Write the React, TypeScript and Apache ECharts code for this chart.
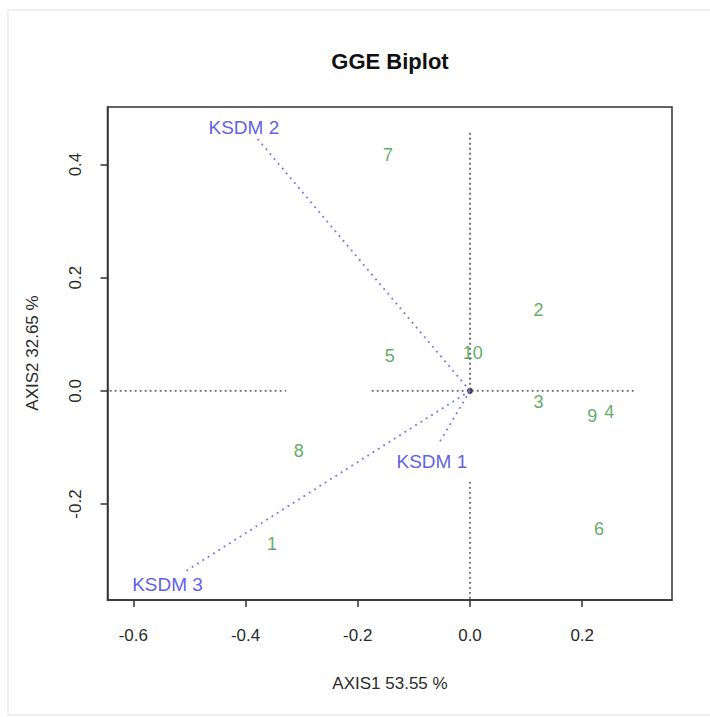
import React, { useEffect, useRef } from "react";
import * as echarts from "echarts";

// Genotypes (green labels)
const genotypeNames = ["1", "2", "3", "4", "5", "6", "7", "8", "9", "10"];
const genotypeX = [-0.353, 0.122, 0.122, 0.248, -0.143, 0.230, -0.146, -0.305, 0.218, 0.005];
const genotypeY = [-0.271, 0.143, -0.019, -0.037, 0.061, -0.245, 0.417, -0.106, -0.044, 0.067];

// Environments (blue vectors)
const envNames = ["KSDM 1", "KSDM 2", "KSDM 3"];
const envLabelX = [-0.068, -0.403, -0.539];
const envLabelY = [-0.124, 0.465, -0.343];
const envEndX = [-0.057, -0.380, -0.512];
const envEndY = [-0.095, 0.447, -0.322];

// Dotted reference axes (segments) [x1, y1, x2, y2]
const refSegments = [
  [-0.642, 0, -0.328, 0],
  [-0.175, 0, 0.294, 0],
  [0, 0.456, 0, 0],
  [0, -0.161, 0, -0.3696],
];

const xTicks = [-0.6, -0.4, -0.2, 0.0, 0.2];
const yTicks = [-0.2, 0.0, 0.2, 0.4];

const xRange = [-0.646, 0.36];
const yRange = [-0.3696, 0.5017];

const FONT = "'Liberation Sans', Arial, sans-serif";

export default function App() {
  const ref = useRef<HTMLDivElement>(null);
  useEffect(() => {
    if (!ref.current) return;
    const chart = echarts.init(ref.current, undefined, { renderer: "svg" });
    const series: any[] = [];
    refSegments.forEach((s) => {
      series.push({
        type: "line",
        data: [[s[0], s[1]], [s[2], s[3]]],
        symbol: "none",
        silent: true,
        lineStyle: { color: "#666", width: 1.8, type: [1.8, 3.2] },
      });
    });
    envNames.forEach((_, i) => {
      series.push({
        type: "line",
        data: [[0, 0], [envEndX[i], envEndY[i]]],
        symbol: "none",
        silent: true,
        lineStyle: { color: "#7474e4", width: 1.8, type: [1.8, 4.5] },
      });
    });
    series.push({
      type: "scatter",
      data: [[0, 0]],
      symbol: "circle",
      symbolSize: 6,
      itemStyle: { color: "#000" },
      silent: true,
    });
    series.push({
      type: "scatter",
      data: genotypeNames.map((n, i) => [genotypeX[i], genotypeY[i], n]),
      symbolSize: 0,
      silent: true,
      label: {
        show: true,
        position: "inside",
        formatter: (p: any) => p.data[2],
        color: "#36963a",
        fontSize: 18,
        fontFamily: FONT,
      },
    });
    series.push({
      type: "scatter",
      data: envNames.map((n, i) => [envLabelX[i], envLabelY[i], n]),
      symbolSize: 0,
      silent: true,
      label: {
        show: true,
        position: "inside",
        formatter: (p: any) => p.data[2],
        color: "#3434e0",
        fontSize: 19,
        fontFamily: FONT,
      },
    });

    chart.setOption({
      animation: false,
      backgroundColor: "#fff",
      grid: {
        left: 107.5,
        right: 38,
        top: 107,
        bottom: 117,
        show: true,
        borderColor: "#333",
        borderWidth: 1.5,
        backgroundColor: "transparent",
      },
      xAxis: {
        type: "value",
        min: xRange[0],
        max: xRange[1],
        splitLine: { show: false },
        axisLine: { show: true, onZero: false, lineStyle: { color: "#333", width: 1.5 } },
        axisTick: {
          show: true,
          length: 7,
          customValues: xTicks,
          lineStyle: { color: "#333", width: 1.5 },
        },
        axisLabel: {
          customValues: xTicks,
          formatter: (v: number) => v.toFixed(1),
          color: "#2a2a2a",
          fontSize: 17,
          fontFamily: FONT,
          margin: 27,
        },
      },
      yAxis: {
        type: "value",
        min: yRange[0],
        max: yRange[1],
        splitLine: { show: false },
        axisLine: { show: true, onZero: false, lineStyle: { color: "#333", width: 1.5 } },
        axisTick: {
          show: true,
          length: 7,
          customValues: yTicks,
          lineStyle: { color: "#333", width: 1.5 },
        },
        axisLabel: {
          customValues: yTicks,
          formatter: (v: number) => v.toFixed(1),
          rotate: 90,
          color: "#2a2a2a",
          fontSize: 17,
          fontFamily: FONT,
          margin: 24,
        },
      },
      graphic: [
        {
          type: "rect",
          shape: { x: 8, y: 10, width: 720, height: 705 },
          style: { fill: "none", stroke: "#ececec", lineWidth: 1.5 },
          silent: true,
        },
        {
          type: "text",
          x: 390,
          y: 61,
          style: {
            text: "GGE Biplot",
            font: `bold 22px ${FONT}`,
            fill: "#111",
            textAlign: "center",
            textVerticalAlign: "middle",
          },
        },
        {
          type: "text",
          x: 390,
          y: 683,
          style: {
            text: "AXIS1 53.55 %",
            font: `17px ${FONT}`,
            fill: "#2a2a2a",
            textAlign: "center",
            textVerticalAlign: "middle",
          },
        },
        {
          type: "text",
          x: 32,
          y: 353,
          rotation: Math.PI / 2,
          style: {
            text: "AXIS2 32.65 %",
            font: `17px ${FONT}`,
            fill: "#2a2a2a",
            textAlign: "center",
            textVerticalAlign: "middle",
          },
        },
      ],
      series,
    });
    return () => chart.dispose();
  }, []);
  return (
    <div
      ref={ref}
      style={{ position: "fixed", left: 0, top: 0, width: 710, height: 717, background: "#fff" }}
    />
  );
}
